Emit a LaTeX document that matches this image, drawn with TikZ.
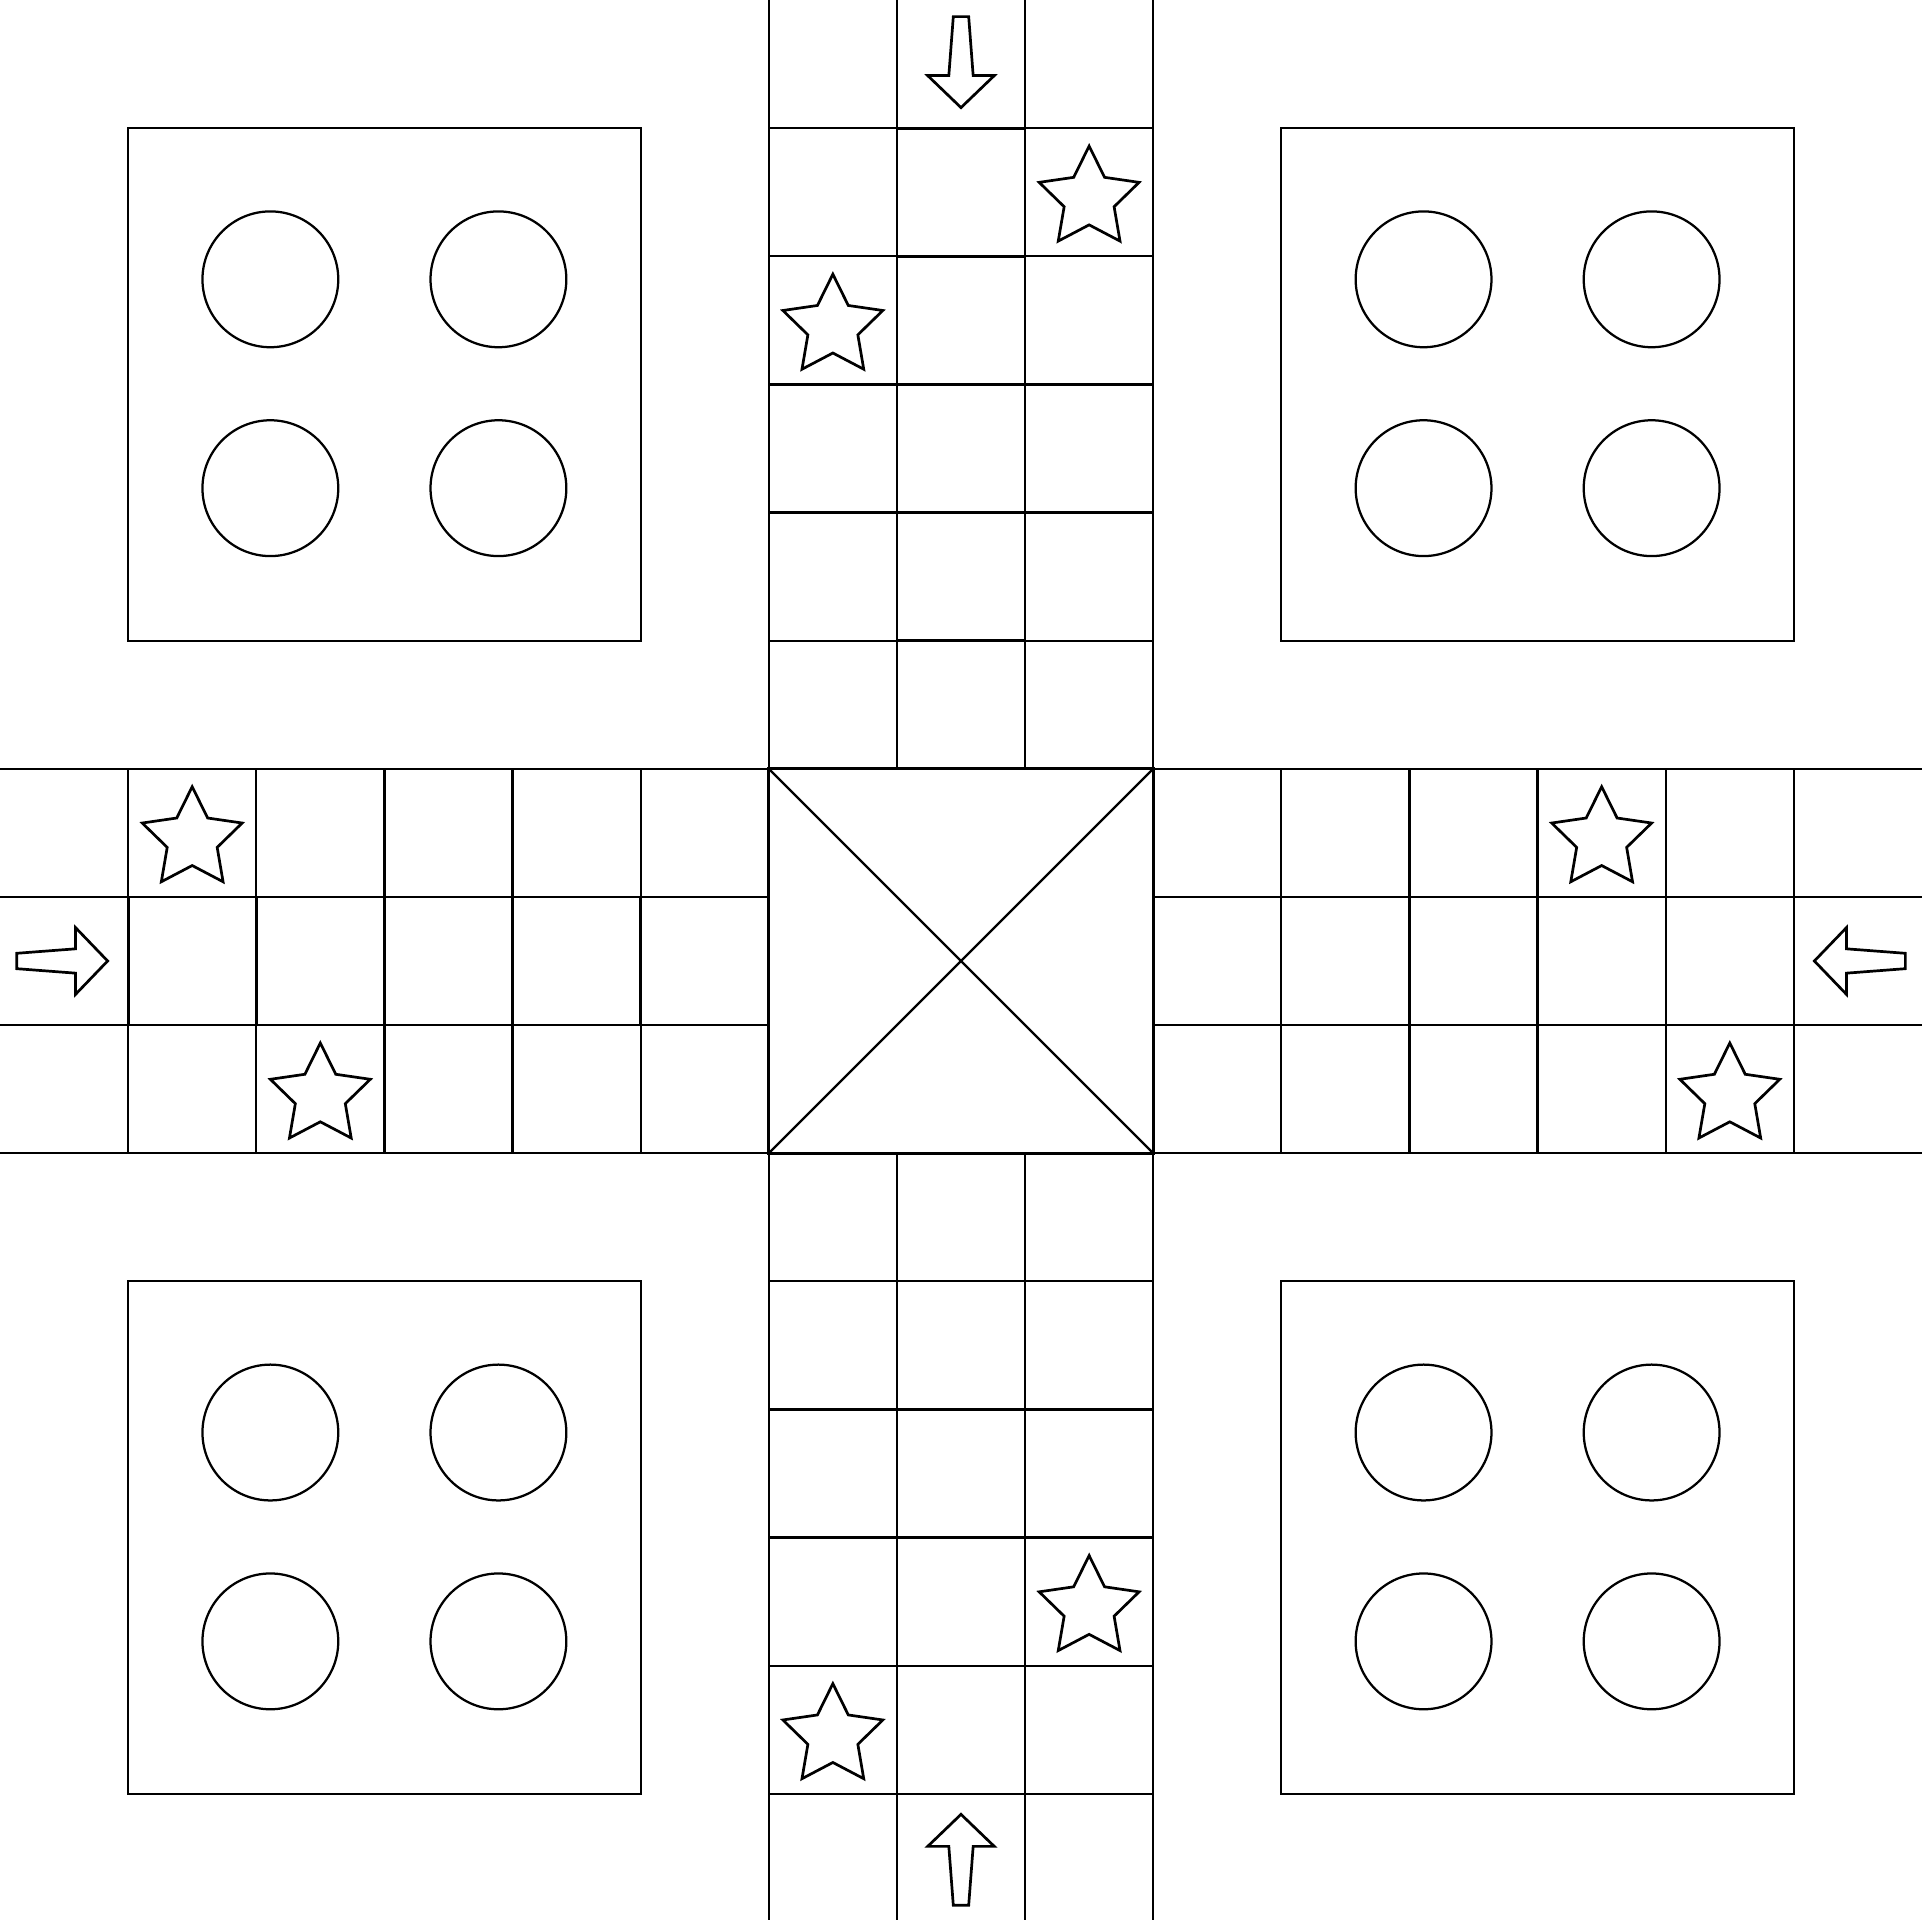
\documentclass[tikz,border=0pt]{standalone}
\usepackage{tikz}
\usetikzlibrary{shapes.geometric}

\begin{document}
\begin{tikzpicture}[x=1cm,y=-1cm,
  board/.style={black,line width=0.5pt},
  lane/.style={black,line width=0.62pt},
  safestar/.style={star,star points=5,star point ratio=2,minimum size=0.82cm,inner sep=0pt,draw,line width=0.6pt},
  entryarrow/.pic={\draw[line width=0.6pt] (0.34,0) -- (0.09,0.26) -- (0.09,0.095) -- (-0.37,0.06) -- (-0.37,-0.06) -- (0.09,-0.095) -- (0.09,-0.26) -- cycle;}]
  \useasboundingbox (0,0) rectangle (15,14.984);
  % yards with four circles each
  \foreach \hx/\hy in {1/1,10/1,1/10,10/10}{
    \draw[board] (\hx,\hy) rectangle ++(4,4);
    \foreach \cx/\cy in {1.11/1.18,2.89/1.18,1.11/2.81,2.89/2.81}
      \draw[board] (\hx+\cx,\hy+\cy) circle (0.53);
  }
  % track
  \draw[board] (6,0) -- (6,15) (9,0) -- (9,15) (0,6) -- (15,6) (0,9) -- (15,9);
  \draw[board] (7,0) -- (7,6) (8,0) -- (8,6) (7,9) -- (7,15) (8,9) -- (8,15);
  \draw[board] (0,7) -- (6,7) (0,8) -- (6,8) (9,7) -- (15,7) (9,8) -- (15,8);
  \foreach \k in {1,...,5}{
    \draw[board] (6,\k) -- (9,\k) (6,15-\k) -- (9,15-\k);
    \draw[board] (\k,6) -- (\k,9) (15-\k,6) -- (15-\k,9);
  }
  % home lanes
  \foreach \k in {1,...,5}{
    \draw[lane] (7,\k) rectangle ++(1,1);
    \draw[lane] (\k,7) rectangle ++(1,1);
  }
  % centre
  \draw[lane] (6,6) rectangle (9,9);
  \draw[board] (6,6) -- (9,9) (9,6) -- (6,9);
  % safe squares
  \foreach \c/\r [count=\i] in {8/1,6/2,1/6,2/8,12/6,13/8,8/12,6/13}
    \node[safestar] (star\i) at (\c+0.5,\r+0.55) {};
  % start arrows
  \pic[rotate=-90] at (7.5,0.5) {entryarrow};
  \pic at (0.5,7.5) {entryarrow};
  \pic[rotate=180] at (14.5,7.5) {entryarrow};
  \pic[rotate=90] at (7.5,14.5) {entryarrow};
\end{tikzpicture}
\end{document}
